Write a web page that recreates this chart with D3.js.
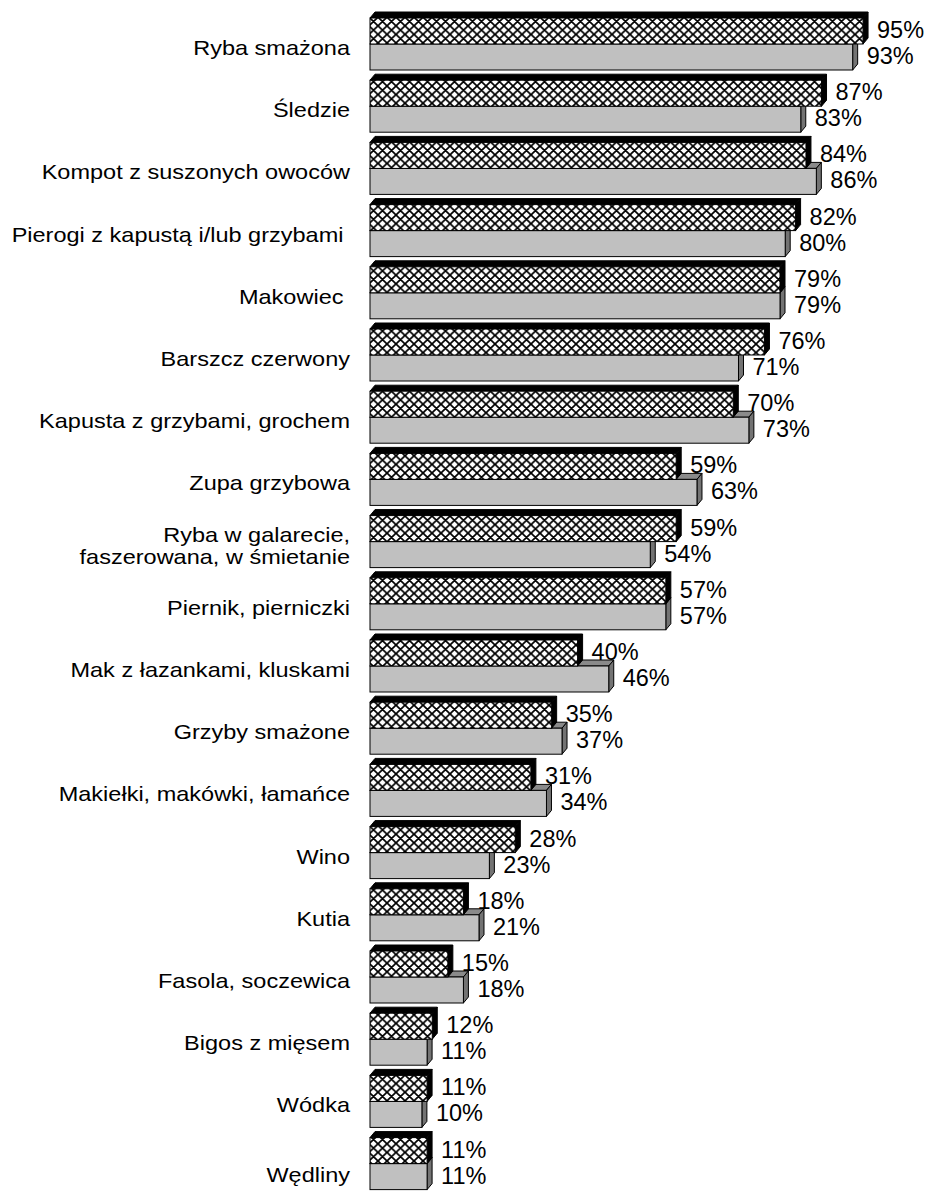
<!DOCTYPE html>
<html>
<head>
<meta charset="utf-8">
<script src="https://cdn.jsdelivr.net/npm/d3@7.9.0/dist/d3.min.js"></script>
<style>
  body { margin: 0; background: #fff; }
  svg { display: block; }
  text { font-family: "Liberation Sans", Arial, sans-serif; fill: #000; }
</style>
</head>
<body>
<div id="chart"></div>
<script>
const categories = [
  'Ryba smażona',
  'Śledzie',
  'Kompot z suszonych owoców',
  'Pierogi z kapustą i/lub grzybami ',
  'Makowiec ',
  'Barszcz czerwony',
  'Kapusta z grzybami, grochem',
  'Zupa grzybowa',
  'Ryba w galarecie,\nfaszerowana, w śmietanie',
  'Piernik, pierniczki',
  'Mak z łazankami, kluskami',
  'Grzyby smażone',
  'Makiełki, makówki, łamańce',
  'Wino',
  'Kutia',
  'Fasola, soczewica',
  'Bigos z mięsem',
  'Wódka',
  'Wędliny'
];
const series = ['hatched', 'gray'];
const valuesHatched = [95, 87, 84, 82, 79, 76, 70, 59, 59, 57, 40, 35, 31, 28, 18, 15, 12, 11, 11];
const valuesGray    = [93, 83, 86, 80, 79, 71, 73, 63, 54, 57, 46, 37, 34, 23, 21, 18, 11, 10, 11];

const width = 935;
const height = 1191;
const dx = 5, dy = 6; // 3d depth

const data = categories.map((c, i) => ({
  cat: c,
  hatched: valuesHatched[i],
  gray: valuesGray[i]
}));

const svg = d3.select('#chart')
  .append('svg')
  .attr('width', width)
  .attr('height', height);

// cross hatch fill
const pat = svg.append('defs').append('pattern')
  .attr('id', 'xhatch')
  .attr('patternUnits', 'userSpaceOnUse')
  .attr('width', 9)
  .attr('height', 8.6);
pat.append('rect').attr('width', 9).attr('height', 8.6).attr('fill', '#fff');
pat.append('path')
  .attr('d', 'M0,0L9,8.6M0,8.6L9,0M-1,7.6L1,9.6M8,-1L10,1M-1,1L1,-1M8,9.6L10,7.6')
  .attr('stroke', '#000')
  .attr('stroke-width', 1.7);

const x = d3.scaleLinear().domain([0, 100]).range([370, 889]);

const y = d3.scaleBand()
  .domain(categories)
  .range([8, 8 + categories.length * 62.2])
  .paddingInner(0);

const yInner = d3.scaleBand()
  .domain(series)
  .range([10, 62]);

const style = {
  hatched: { front: 'url(#xhatch)', top: '#000', side: '#000' },
  gray: { front: '#c0c0c0', top: '#8a8a8a', side: '#737373' }
};

function bar3d(g, key, v, yTop) {
  const h = yInner.bandwidth();
  const x0 = x(0), x1 = x(v);
  const s = style[key];
  g.append('path')
    .attr('d', `M${x0},${yTop}L${x0 + dx},${yTop - dy}L${x1 + dx},${yTop - dy}L${x1},${yTop}Z`)
    .attr('fill', s.top).attr('stroke', '#000').attr('stroke-width', 1);
  g.append('path')
    .attr('d', `M${x1},${yTop}L${x1 + dx},${yTop - dy}L${x1 + dx},${yTop + h - dy}L${x1},${yTop + h}Z`)
    .attr('fill', s.side).attr('stroke', '#000').attr('stroke-width', 1);
  g.append('rect')
    .attr('x', x0).attr('y', yTop)
    .attr('width', x1 - x0).attr('height', h)
    .attr('fill', s.front).attr('stroke', '#000').attr('stroke-width', 1);
}

const groups = svg.append('g').selectAll('g.grp')
  .data(data)
  .join('g')
  .attr('class', 'grp');

groups.each(function (d) {
  const g = d3.select(this);
  const base = y(d.cat);
  // gray first, so the hatched bar covers its top face
  bar3d(g, 'gray', d.gray, base + yInner('gray'));
  bar3d(g, 'hatched', d.hatched, base + yInner('hatched'));

  series.forEach(k => {
    g.append('text')
      .attr('x', x(d[k]) + dx + 9)
      .attr('y', base + yInner(k) + yInner.bandwidth() / 2 - 1)
      .attr('dominant-baseline', 'central')
      .style('font-size', '23.5px')
      .text(d[k] + '%');
  });
});

// category labels (the original text is a little wider than it is tall)
groups.each(function (d, i) {
  const lines = d.cat.split('\n');
  // the last label sits a bit lower in the original
  const center = y(d.cat) + 36 + (i === categories.length - 1 ? 7 : 0);
  const t = d3.select(this).append('text')
    .attr('text-anchor', 'end')
    .attr('transform', 'translate(350,0) scale(1.12,1)')
    .attr('xml:space', 'preserve')
    .style('white-space', 'pre')
    .style('font-size', '21px');
  lines.forEach((ln, j) => {
    t.append('tspan')
      .attr('x', 0)
      .attr('y', center + 11 + (j - (lines.length - 1) / 2) * 22)
      .text(ln);
  });
});
</script>
</body>
</html>
